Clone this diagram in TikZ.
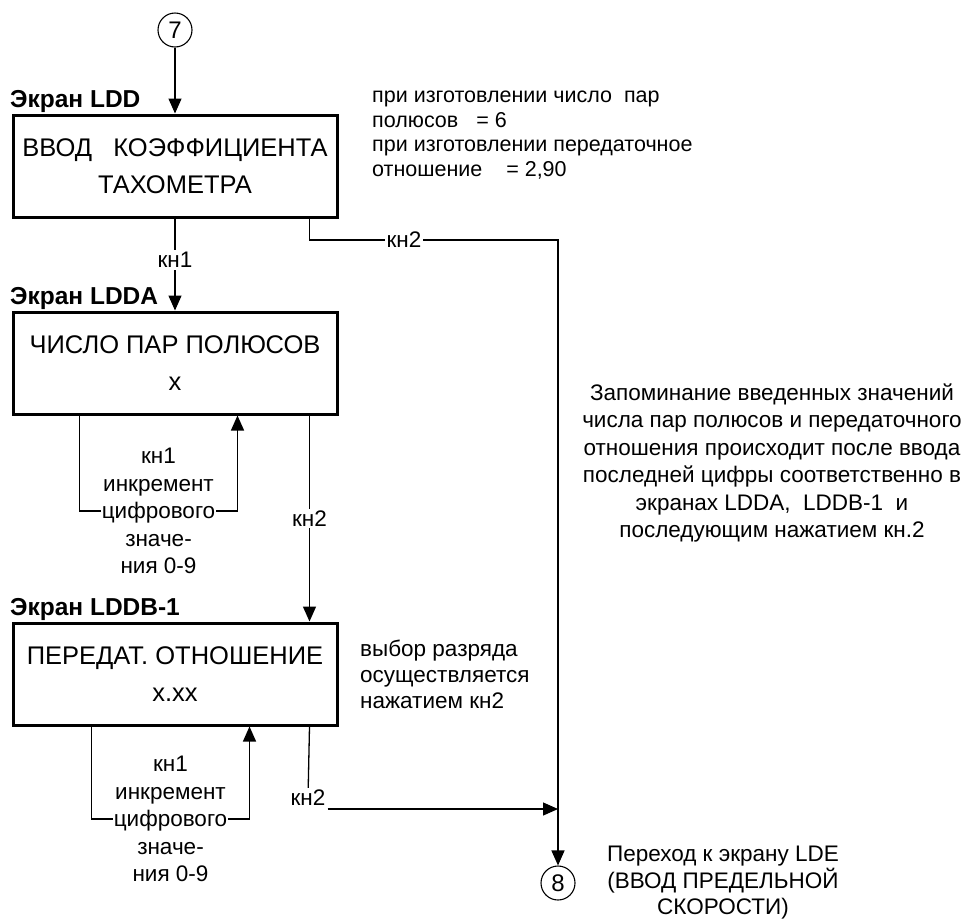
\documentclass[tikz,border=0pt]{standalone}
\usepackage{fontspec}
\setmainfont{Liberation Sans}
\usetikzlibrary{calc}
\usetikzlibrary{arrows.meta}

\begin{document}
\begin{tikzpicture}[x=1pt, y=-1pt,
  Pfeil/.style={line width=1.3pt, arrows = -{Triangle[length=15pt, width=13pt]}},
  Linie/.style={line width=1.3pt},
  Kasten/.style={draw, line width=3pt, minimum width=324pt, minimum height=102pt, align=center, font=\fontsize{25.5}{37}\selectfont},
  Titel/.style={anchor=south west, inner sep=0.5pt, xshift=-2pt, font=\fontsize{24.5}{28}\bfseries\selectfont},
  Marke/.style={draw, circle, line width=1.1pt, minimum size=34pt, inner sep=0pt, font=\fontsize{24}{24}\selectfont},
  kn/.style={fill=white, inner sep=2pt, font=\fontsize{22.5}{26}\selectfont},
  Schleife/.style={fill=white, inner sep=1pt, align=center, font=\fontsize{22.5}{27.5}\selectfont},
  Hinweis/.style={inner sep=0pt, font=\fontsize{22.5}{26}\selectfont}]
\useasboundingbox (0,0) rectangle (968,919);
\node[Marke] (m7) at (175,30) {7};
\node[Kasten, label={[Titel]north west:Экран LDD}] (ldd) at (175,166) {ВВОД\ \ \ КОЭФФИЦИЕНТА\\ТАХОМЕТРА};
\node[Kasten, label={[Titel]north west:Экран LDDA}] (ldda) at (175,363) {ЧИСЛО ПАР ПОЛЮСОВ\\x};
\node[Kasten, label={[Titel]north west:Экран LDDB-1}] (lddb) at (175,674) {ПЕРЕДАТ. ОТНОШЕНИЕ\\x.xx};
\node[Marke] (m8) at (558,883) {8};
\coordinate (bus) at (558,240);
\coordinate (bus2) at (558,809);
\coordinate (aL) at ($(ldda.south west)+(68,0)$);
\coordinate (aR) at ($(ldda.south west)+(226,0)$);
\coordinate (bL) at ($(lddb.south west)+(80,0)$);
\coordinate (bR) at ($(lddb.south west)+(238,0)$);
\draw[Pfeil] (m7) -- (ldd);
\draw[Pfeil] (ldd) -- node[kn, pos=0.45]{кн1} (ldda);
\draw[Pfeil] ($(ldd.south east)+(-29,0)$) |- node[kn, pos=0.69]{кн2} (bus) -- (m8);
\draw[Pfeil] ($(ldda.south east)+(-29,0)$) -- node[kn]{кн2} ($(lddb.north east)+(-29,0)$);
\draw[Pfeil] (aL) |- node[Schleife, pos=0.75]{кн1\\инкремент\\цифрового\\значе-\\ния 0-9} (aR |- 0,511) -- (aR);
\draw[Pfeil] (bL) |- node[Schleife, pos=0.75]{кн1\\инкремент\\цифрового\\значе-\\ния 0-9} (bR |- 0,819) -- (bR);
\node[kn] (kn2b) at (308,798) {кн2};
\draw[Linie] ($(lddb.south east)+(-29,0)$) -- (kn2b);
\draw[Pfeil] (kn2b.east |- bus2) -- (bus2);
\node[Hinweis, anchor=west, align=left, font=\fontsize{21.5}{24.5}\selectfont] (hw1) at (372,135) {при изготовлении число\ \ пар\\полюсов\ \ \ = 6\\при изготовлении передаточное\\отношение\ \ \ \ = 2,90};
\node[Hinweis, align=center, font=\fontsize{22.5}{27.5}\selectfont] (hw2) at (772,463) {Запоминание введенных значений\\числа пар полюсов и передаточного\\отношения происходит после ввода\\последней цифры соответственно в\\экранах LDDA,\ \ LDDB-1\ \ и\\последующим нажатием кн.2};
\node[Hinweis, anchor=west, align=left] (hw3) at (360,674) {выбор разряда\\осуществляется\\нажатием кн2};
\node[Hinweis, align=center, font=\fontsize{22.5}{26.5}\selectfont] (hw4) at (723,883) {Переход к экрану LDE\\(ВВОД ПРЕДЕЛЬНОЙ\\СКОРОСТИ)};
\end{tikzpicture}
\end{document}
